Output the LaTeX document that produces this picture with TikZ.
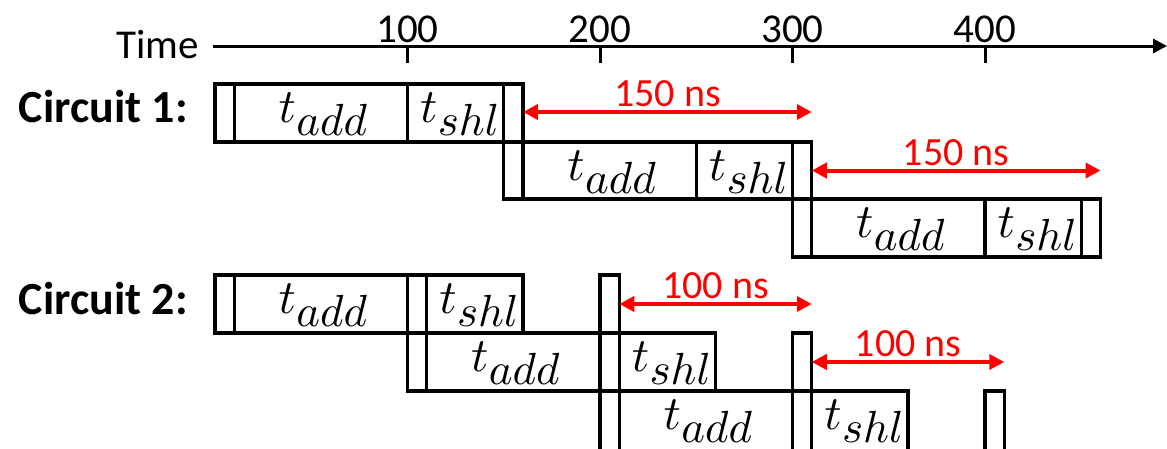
\documentclass[tikz,border=0pt]{standalone}
\usepackage{fontspec}
\setmainfont{Carlito}
\usetikzlibrary{arrows.meta}
\tikzset{
  cellbox/.style={draw=black, line width=3.2pt, inner sep=0pt, outer sep=0pt, rectangle},
  redarr/.style={draw=red, line width=4pt, {Triangle[length=15pt,width=15pt]}-{Triangle[length=15pt,width=15pt]}},
  rlbl/.style={text=red, font=\fontsize{40}{44}\selectfont, anchor=base, inner sep=0pt},
  mlbl/.style={anchor=base, inner sep=0pt},
  axislbl/.style={font=\fontsize{41}{44}\selectfont, inner sep=0pt, anchor=base},
  circlbl/.style={font=\fontsize{46}{50}\selectfont\bfseries, inner sep=0pt, anchor=base east},
  axisline/.style={draw=black, line width=3pt},
}
\newcommand{\mkcell}[5]{\node[cellbox, minimum width={(#3)-(#2)}, minimum height={(#5)-(#4)}] (#1) at ({((#2)+(#3))/2},{((#4)+(#5))/2}) {};}
\newcommand{\tsub}[1]{\scalebox{4.8}{\normalsize$t$}\kern0.5pt\raisebox{-13pt}{\scalebox{4.5}{\normalsize$#1$}}}
\newcommand{\addlbl}[1]{\node[mlbl] at ([xshift=2pt,yshift=-38pt]#1.north) {\tsub{add}};}
\newcommand{\shllbl}[1]{\node[mlbl] at ([xshift=4pt,yshift=-38pt]#1.north) {\tsub{shl}};}
\begin{document}
\begin{tikzpicture}[x=1pt,y=-1pt]
\useasboundingbox (0,0) rectangle (1167,448);
% time axis
\node[axislbl, anchor=base east] (timelbl) at (199,58) {Time};
\coordinate (ax0) at (213,46);
\coordinate (ax1) at (1167,46);
\draw[axisline, -{Triangle[length=14pt,width=14pt]}] (ax0) -- (ax1);
\foreach \t/\x in {100/407.5,200/600,300/792.5,400/985}{
  \coordinate (tk\t) at (\x,46);
  \draw[axisline] (tk\t) -- ++(0,17);
  \node[axislbl] at (\x,42) {\t};
}
% Circuit 1
\node[circlbl] (circ1) at (188,122) {Circuit 1:};
\mkcell{c1r1a}{215}{234.25}{84}{142}
\mkcell{c1r1b}{234.25}{407.5}{84}{142}
\mkcell{c1r1c}{407.5}{503.75}{84}{142}
\mkcell{c1r1d}{503.75}{523}{84}{142}
\mkcell{c1r2a}{503.75}{523}{142}{199}
\mkcell{c1r2b}{523}{696.25}{142}{199}
\mkcell{c1r2c}{696.25}{792.5}{142}{199}
\mkcell{c1r2d}{792.5}{811.75}{142}{199}
\mkcell{c1r3a}{792.5}{811.75}{199}{257}
\mkcell{c1r3b}{811.75}{985}{199}{257}
\mkcell{c1r3c}{985}{1081.25}{199}{257}
\mkcell{c1r3d}{1081.25}{1100.5}{199}{257}
\addlbl{c1r1b}\shllbl{c1r1c}
\addlbl{c1r2b}\shllbl{c1r2c}
\addlbl{c1r3b}\shllbl{c1r3c}
\draw[redarr] ([yshift=1pt]c1r1d.east) -- ([yshift=1pt]c1r2d.east |- c1r1d.east) node[midway, rlbl, yshift=5.5pt] {150 ns};
\draw[redarr] (c1r2d.east) -- (c1r3d.east |- c1r2d.east) node[midway, rlbl, yshift=5.5pt] {150 ns};
% Circuit 2
\node[circlbl] (circ2) at (188,314) {Circuit 2:};
\mkcell{c2r1a}{215}{234.25}{275}{333}
\mkcell{c2r1b}{234.25}{407.5}{275}{333}
\mkcell{c2r1c}{407.5}{426.75}{275}{333}
\mkcell{c2r1d}{426.75}{523}{275}{333}
\mkcell{c2r1e}{600}{619.25}{275}{333}
\mkcell{c2r2a}{407.5}{426.75}{333}{391}
\mkcell{c2r2b}{426.75}{600}{333}{391}
\mkcell{c2r2c}{600}{619.25}{333}{391}
\mkcell{c2r2d}{619.25}{715.5}{333}{391}
\mkcell{c2r2e}{792.5}{811.75}{333}{391}
\mkcell{c2r3a}{600}{619.25}{391}{454}
\mkcell{c2r3b}{619.25}{792.5}{391}{454}
\mkcell{c2r3c}{792.5}{811.75}{391}{454}
\mkcell{c2r3d}{811.75}{908}{391}{454}
\mkcell{c2r3e}{985}{1004.25}{391}{454}
\addlbl{c2r1b}\shllbl{c2r1d}
\addlbl{c2r2b}\shllbl{c2r2d}
\addlbl{c2r3b}\shllbl{c2r3d}
\draw[redarr] (c2r1e.east) -- (c2r2e.east |- c2r1e.east) node[midway, rlbl, yshift=6pt] {100 ns};
\draw[redarr] (c2r2e.east) -- (c2r3e.east |- c2r2e.east) node[midway, rlbl, yshift=6pt] {100 ns};
\end{tikzpicture}
\end{document}
